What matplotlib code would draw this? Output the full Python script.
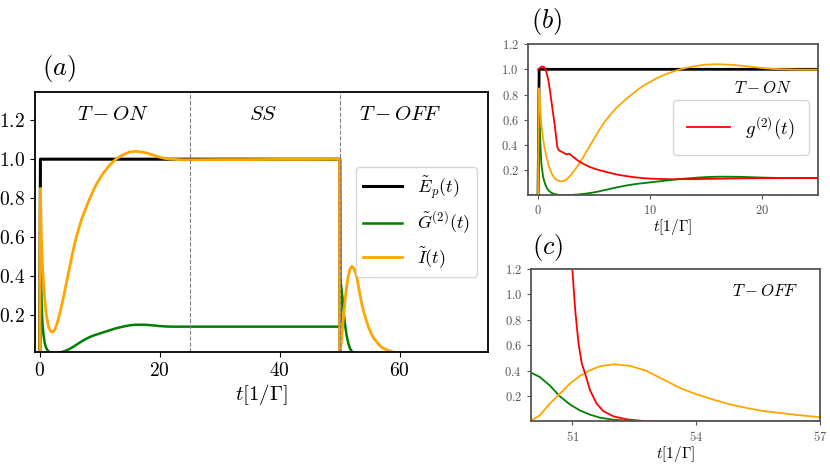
import matplotlib
matplotlib.use("Agg")
import matplotlib.pyplot as plt
import numpy as np

plt.rcParams['font.family'] = 'serif'
plt.rcParams['font.serif'] = ['cmr10', 'DejaVu Serif']
plt.rcParams['mathtext.fontset'] = 'cm'
plt.rcParams['axes.formatter.use_mathtext'] = True

# ---- data ----
# switch-on part (t from -1 to 25)
t_on = [-1, 0, 0.05, 0.1, 0.2, 0.3, 0.45, 0.6, 0.8, 1.0, 1.25, 1.5, 1.75, 2.0,
        2.25, 2.5, 2.75, 3.0, 3.5, 4.0, 4.5, 5.0, 5.5, 6.0, 6.5, 7.0, 7.5, 8.0,
        8.5, 9.0, 9.5, 10, 10.5, 11, 11.5, 12, 12.5, 13, 14, 15, 16, 17, 18, 19,
        20, 21, 22, 23, 24, 25]
I_on = [0, 0, 0.7, 0.85, 0.68, 0.56, 0.45, 0.37, 0.29, 0.22, 0.17, 0.135, 0.12,
        0.113, 0.115, 0.125, 0.145, 0.17, 0.23, 0.3, 0.375, 0.45, 0.525, 0.59,
        0.645, 0.695, 0.735, 0.775, 0.81, 0.845, 0.875, 0.9, 0.925, 0.945, 0.965,
        0.98, 0.995, 1.007, 1.025, 1.037, 1.04, 1.037, 1.03, 1.02, 1.01, 1.003,
        1.0, 0.998, 0.997, 0.997]
G_on = [0, 0, 0.5, 0.74, 0.42, 0.25, 0.15, 0.1, 0.058, 0.035, 0.02, 0.012, 0.008,
        0.005, 0.004, 0.004, 0.005, 0.006, 0.009, 0.013, 0.019, 0.026, 0.035,
        0.045, 0.055, 0.065, 0.074, 0.082, 0.089, 0.095, 0.1, 0.105, 0.11, 0.115,
        0.12, 0.125, 0.13, 0.134, 0.141, 0.147, 0.15, 0.15, 0.149, 0.146, 0.143,
        0.141, 0.14, 0.14, 0.14, 0.14]

t_g2 = [0, 0.15, 0.3, 0.5, 0.65, 0.8, 0.92, 1.05, 1.22, 1.37, 1.51, 1.62, 1.72,
        1.85, 1.96, 2.2, 2.41, 2.55, 2.7, 2.85, 3.15, 3.45, 3.75, 4.2, 4.64, 5.1,
        5.53, 6.3, 7.0, 7.7, 8.5, 9.4, 10.5, 12, 14, 16, 18, 20, 22, 25]
g2_on = [1.0, 1.01, 1.02, 1.02, 1.005, 0.96, 0.915, 0.84, 0.73, 0.635, 0.545,
         0.46, 0.385, 0.36, 0.354, 0.343, 0.333, 0.326, 0.332, 0.328, 0.306,
         0.285, 0.266, 0.245, 0.226, 0.212, 0.2, 0.183, 0.168, 0.157, 0.147,
         0.138, 0.133, 0.13, 0.131, 0.134, 0.137, 0.138, 0.139, 0.14]

# steady state part
t_ss = [26, 30, 35, 40, 45, 49.95]
I_ss = [0.997, 0.998, 0.998, 0.999, 0.999, 1.0]
G_ss = [0.14, 0.14, 0.14, 0.14, 0.14, 0.14]

# switch-off part (t from 50)
t_off = [50.0, 50.21, 50.45, 50.7, 50.94, 51.18, 51.43, 51.67, 52.0, 52.4, 52.8,
         53.21, 53.61, 54.01, 54.42, 54.82, 55.23, 55.63, 56.04, 56.45, 56.97,
         58.0, 59.0, 60.0, 61.0, 62.0, 70.0]
I_off = [0.005, 0.047, 0.139, 0.218, 0.297, 0.357, 0.403, 0.434, 0.45, 0.437,
         0.397, 0.329, 0.263, 0.213, 0.171, 0.134, 0.105, 0.081, 0.066, 0.05,
         0.034, 0.018, 0.009, 0.005, 0.002, 0.001, 0.0]
G_off = [0.384, 0.35, 0.284, 0.197, 0.134, 0.087, 0.053, 0.029, 0.013, 0.005,
         0.001, 0, 0, 0, 0, 0, 0, 0, 0, 0, 0, 0, 0, 0, 0, 0, 0]

t_g2_off = [50.9, 50.95, 51.0, 51.07, 51.15, 51.23, 51.31, 51.43, 51.59, 51.75,
            52.0, 52.32, 52.65, 53.0, 55.0, 57.0]
g2_off = [1.75, 1.45, 1.2, 0.876, 0.613, 0.455, 0.376, 0.245, 0.139, 0.081,
          0.039, 0.016, 0.005, 0.0, 0.0, 0.0]

t_E = [-1, 0, 0.1, 50, 50.05, 70]
E_p = [0, 0, 1, 1, 0, 0]

t_all = np.concatenate([t_on, t_ss, [49.98], t_off])
I_all = np.concatenate([I_on, I_ss, [0.0], I_off])
G_all = np.concatenate([G_on, G_ss, [0.14], G_off])

fig = plt.figure(figsize=(8.3, 4.67), dpi=100)

# ---- (a) full pulse ----
ax = fig.add_axes([0.0422, 0.2463, 0.5458, 0.5567])
ax.plot(t_E, E_p, color='black', lw=2.2, label=r'$\tilde{E}_p(t)$')
ax.plot(t_all, G_all, color='green', lw=1.8, label=r'$\tilde{G}^{(2)}(t)$')
ax.plot(t_all, I_all, color='orange', lw=2.0, label=r'$\tilde{I}(t)$')
ax.axvline(25, color='grey', ls='--', lw=0.8)
ax.axvline(50, color='grey', ls='--', lw=0.8)
ax.set_xlim(-0.8, 74.7)
ax.set_ylim(0.01, 1.345)
ax.set_xticks([0, 20, 40, 60])
ax.set_yticks([0.2, 0.4, 0.6, 0.8, 1.0, 1.2])
ax.tick_params(labelsize=14)
for s in ax.spines.values():
    s.set_linewidth(1.3)
ax.set_xlabel(r'$t[1/\Gamma]$', fontsize=15, labelpad=2)
ax.text(12.2, 1.227, r'$T-ON$', fontsize=15, ha='center', va='center')
ax.text(37.2, 1.227, r'$SS$', fontsize=15, ha='center', va='center')
ax.text(60.1, 1.227, r'$T-OFF$', fontsize=15, ha='center', va='center')
ax.legend(loc='center right', fontsize=13, handlelength=2.2, borderaxespad=0.6)

# ---- (b) switch on ----
grey = '#555555'
axb = fig.add_axes([0.6361, 0.5824, 0.3494, 0.3233])
axb.plot(t_E, E_p, color='black', lw=2.0)
axb.plot(t_on, G_on, color='green', lw=1.3)
axb.plot(t_on, I_on, color='orange', lw=1.3)
axb.plot(t_g2, g2_on, color='red', lw=1.3, label=r'$g^{(2)}(t)$')
axb.set_xlim(-0.9, 25)
axb.set_ylim(0.005, 1.2)
axb.set_xticks([0, 10, 20])
axb.set_yticks([0.2, 0.4, 0.6, 0.8, 1.0, 1.2])
axb.text(20.1, 0.85, r'$T-ON$', fontsize=12, ha='center', va='center')
axb.legend(loc='center right', bbox_to_anchor=(1.0, 0.447), fontsize=13.5,
           handlelength=2.3, borderpad=0.75, borderaxespad=0.5)
axb.set_xlabel(r'$t[1/\Gamma]$', fontsize=11, labelpad=0)

# ---- (c) switch off ----
axc = fig.add_axes([0.6398, 0.0985, 0.3482, 0.3255])
axc.plot(t_off, G_off, color='green', lw=1.3)
axc.plot(t_off, I_off, color='orange', lw=1.3)
axc.plot(t_g2_off, g2_off, color='red', lw=1.3)
axc.set_xlim(50, 57)
axc.set_ylim(0.003, 1.2)
axc.set_xticks([51, 54, 57])
axc.set_yticks([0.2, 0.4, 0.6, 0.8, 1.0, 1.2])
axc.text(55.68, 1.027, r'$T-OFF$', fontsize=12, ha='center', va='center')
axc.set_xlabel(r'$t[1/\Gamma]$', fontsize=11, labelpad=0)

for a in (axb, axc):
    a.tick_params(labelsize=9, colors=grey, length=3)
    for s in a.spines.values():
        s.set_color(grey)
        s.set_linewidth(1.3)

fig.text(0.051, 0.854, r'$(a)$', fontsize=19, va='center')
fig.text(0.640, 0.953, r'$(b)$', fontsize=19, va='center')
fig.text(0.641, 0.471, r'$(c)$', fontsize=19, va='center')

fig.savefig('out.png', dpi=100)
